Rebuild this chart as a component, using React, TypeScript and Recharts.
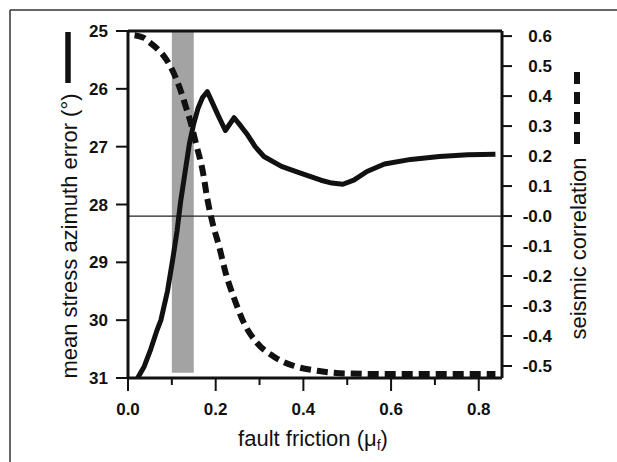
import { LineChart, Line, XAxis, YAxis, ReferenceArea, ReferenceLine } from "recharts";

// fault friction vs. mean stress azimuth error (solid, left axis, reversed)
const errorX = [0.022, 0.037, 0.052, 0.065, 0.075, 0.09, 0.102, 0.112, 0.12, 0.13, 0.14, 0.15, 0.16, 0.17, 0.181, 0.19, 0.205, 0.222, 0.242, 0.258, 0.273, 0.29, 0.31, 0.35, 0.395, 0.44, 0.465, 0.49, 0.515, 0.545, 0.585, 0.645, 0.71, 0.775, 0.838];
const errorY = [31.0, 30.8, 30.5, 30.2, 30.0, 29.5, 28.95, 28.45, 27.95, 27.45, 26.95, 26.6, 26.33, 26.15, 26.05, 26.2, 26.45, 26.72, 26.5, 26.65, 26.8, 27.0, 27.17, 27.34, 27.46, 27.58, 27.63, 27.65, 27.58, 27.43, 27.3, 27.22, 27.17, 27.14, 27.13];

// fault friction vs. seismic correlation (dashed, right axis)
const corrX = [0.015, 0.035, 0.052, 0.068, 0.083, 0.1, 0.117, 0.132, 0.1435, 0.155, 0.17, 0.1815, 0.193, 0.208, 0.223, 0.242, 0.265, 0.295, 0.333, 0.379, 0.432, 0.5, 0.6, 0.7, 0.838];
const corrY = [0.603, 0.595, 0.576, 0.556, 0.531, 0.49, 0.431, 0.364, 0.309, 0.242, 0.153, 0.053, -0.024, -0.102, -0.191, -0.274, -0.358, -0.424, -0.469, -0.5, -0.516, -0.525, -0.527, -0.527, -0.527];

const xTicks = [0, 0.1, 0.2, 0.3, 0.4, 0.5, 0.6, 0.7, 0.8];
const leftTicks = [25, 26, 27, 28, 29, 30, 31];
const rightTicks = [0.6, 0.5, 0.4, 0.3, 0.2, 0.1, 0, -0.1, -0.2, -0.3, -0.4, -0.5];
const band = [0.1, 0.15];

const errorData = errorX.map((x, i) => ({ x, v: errorY[i] }));
const corrData = corrX.map((x, i) => ({ x, c: corrY[i] }));

const FONT = "'Liberation Sans', Arial, Helvetica, sans-serif";
const INK = "#111";

const XTick = (props: any) => {
  const { x, y, payload } = props;
  const major = Math.round(payload.value * 10) % 2 === 0;
  return (
    <g>
      <line x1={x} x2={x} y1={y} y2={y + (major ? 13 : 7)} stroke={INK} strokeWidth={2} />
      {major && (
        <text x={x} y={y + 31} dy="0.355em" textAnchor="middle" fontFamily={FONT} fontWeight="bold" fontSize={17} fill={INK}>
          {payload.value.toFixed(1)}
        </text>
      )}
    </g>
  );
};

const RightTick = (props: any) => {
  const { x, y, payload } = props;
  const label = payload.value === 0 ? "-0.0" : payload.value.toFixed(1);
  return (
    <text x={x + 40} y={y} dy="0.355em" textAnchor="end" fontFamily={FONT} fontWeight="bold" fontSize={17} fill={INK}>
      {label}
    </text>
  );
};

export default function App() {
  return (
    <div style={{ position: "absolute", left: 0, top: 0, width: 617, height: 462, background: "#fff" }}>
      <LineChart width={617} height={462} margin={{ top: 31, right: 0, bottom: 0, left: 0 }}>
        <XAxis
          dataKey="x"
          type="number"
          domain={[0, 0.853]}
          ticks={xTicks}
          height={84}
          tickSize={0}
          tickMargin={0}
          tickLine={false}
          tick={<XTick />}
          axisLine={{ stroke: INK, strokeWidth: 3 }}
          allowDataOverflow
        />
        <YAxis
          yAxisId="left"
          type="number"
          domain={[25, 31]}
          reversed
          ticks={leftTicks}
          width={128}
          tickSize={12}
          tickMargin={8}
          tickLine={{ stroke: INK, strokeWidth: 2 }}
          axisLine={{ stroke: INK, strokeWidth: 3 }}
          tick={{ fill: INK, fontSize: 17, fontWeight: "bold", fontFamily: FONT }}
          allowDataOverflow
        />
        <YAxis
          yAxisId="right"
          orientation="right"
          type="number"
          domain={[-0.54, 0.617]}
          ticks={rightTicks}
          width={115}
          tickSize={10}
          tickMargin={0}
          tickLine={{ stroke: INK, strokeWidth: 2 }}
          axisLine={{ stroke: INK, strokeWidth: 3 }}
          tick={<RightTick />}
          allowDataOverflow
        />
        <ReferenceArea yAxisId="left" x1={band[0]} x2={band[1]} y1={25} y2={30.91} fill="#a3a3a3" fillOpacity={1} stroke="none" />
        <ReferenceLine yAxisId="right" y={0} stroke="#222" strokeWidth={1.3} />
        <ReferenceLine yAxisId="left" y={25} stroke={INK} strokeWidth={3} />
        <Line
          yAxisId="right"
          data={corrData}
          dataKey="c"
          type="monotone"
          stroke={INK}
          strokeWidth={6}
          strokeDasharray="11 6"
          dot={false}
          isAnimationActive={false}
        />
        <Line
          yAxisId="left"
          data={errorData}
          dataKey="v"
          type="linear"
          stroke={INK}
          strokeWidth={5}
          strokeLinejoin="round"
          dot={false}
          isAnimationActive={false}
        />
      </LineChart>
      <svg width={617} height={462} style={{ position: "absolute", left: 0, top: 0, pointerEvents: "none" }}>
        <line x1={10} y1={10} x2={617} y2={10} stroke="#333" strokeWidth={1.5} />
        <line x1={10} y1={10} x2={10} y2={462} stroke="#333" strokeWidth={1.5} />
        <line x1={68} y1={32} x2={68} y2={83} stroke={INK} strokeWidth={5.5} />
        <text transform="rotate(-90)" x={-236} y={77} textAnchor="middle" fontFamily={FONT} fontSize={22} fill={INK}>
          mean stress azimuth error (°)
        </text>
        <line x1={577} y1={72} x2={577} y2={144} stroke={INK} strokeWidth={6} strokeDasharray="12 8" />
        <text transform="rotate(-90)" x={-248.5} y={586} textAnchor="middle" fontFamily={FONT} fontSize={22} fill={INK}>
          seismic correlation
        </text>
        <text x={313} y={446} textAnchor="middle" fontFamily={FONT} fontSize={22} fill={INK}>
          fault friction (μ<tspan dy={4} fontSize={14}>f</tspan><tspan dy={-4}>)</tspan>
        </text>
      </svg>
    </div>
  );
}
